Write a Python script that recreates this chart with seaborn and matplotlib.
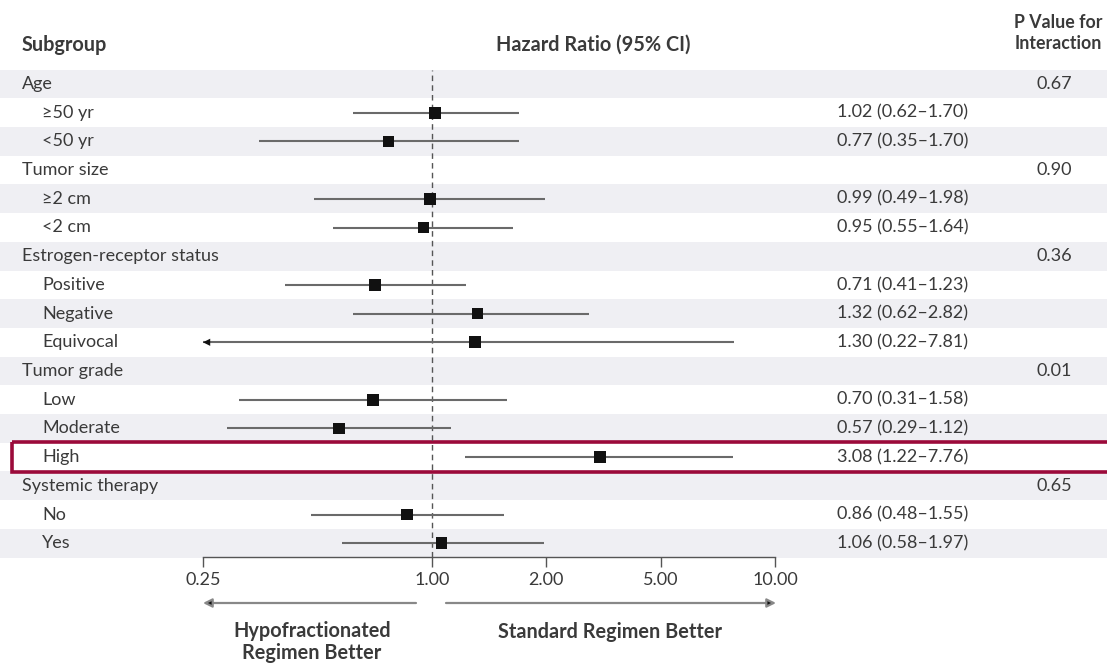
import numpy as np
import pandas as pd
import seaborn as sns
import matplotlib.pyplot as plt
from matplotlib.patches import Rectangle

# chart data
groups = ["Age", "Tumor size", "Estrogen-receptor status", "Tumor grade", "Systemic therapy"]
group_sizes = [2, 2, 3, 3, 2]
p_values = ["0.67", "0.90", "0.36", "0.01", "0.65"]
subgroups = ["≥50 yr", "<50 yr", "≥2 cm", "<2 cm", "Positive", "Negative", "Equivocal",
             "Low", "Moderate", "High", "No", "Yes"]
hr = [1.02, 0.77, 0.99, 0.95, 0.71, 1.32, 1.30, 0.70, 0.57, 3.08, 0.86, 1.06]
ci_low = [0.62, 0.35, 0.49, 0.55, 0.41, 0.62, 0.22, 0.31, 0.29, 1.22, 0.48, 0.58]
ci_high = [1.70, 1.70, 1.98, 1.64, 1.23, 2.82, 7.81, 1.58, 1.12, 7.76, 1.55, 1.97]
x_ticks = [0.25, 1.00, 2.00, 5.00, 10.00]
x_tick_labels = ["0.25", "1.00", "2.00", "5.00", "10.00"]
highlight = "High"

sns.set_theme(style="white")
plt.rcParams["font.family"] = ["Lato", "DejaVu Sans"]

text_col = "#3a3a3a"
shade = "#efeff3"
fs = 13
fs_b = 14.3

# the axis in the original is piecewise: ticks are evenly spaced above 1
tick_pos = np.array([-2.0, 0.0, 1.0, 2.0, 3.0])
log_ticks = np.log10(x_ticks)


def fwd(v):
    return np.interp(np.log10(np.clip(v, 1e-6, None)), log_ticks, tick_pos)


def inv(p):
    return 10 ** np.interp(p, tick_pos, log_ticks)


# build the row table
rows = []
i = 0
k = 0
for g, n in zip(groups, group_sizes):
    rows.append(dict(label=g, row=i, kind="group"))
    i += 1
    for _ in range(n):
        rows.append(dict(label=subgroups[k], row=i, kind="sub", hr=hr[k], lo=ci_low[k], hi=ci_high[k]))
        i += 1
        k += 1
df = pd.DataFrame(rows)
sub = df[df.kind == "sub"]

W, H = 1107, 664
row0, row_h = 84, 28.7
fig = plt.figure(figsize=(W / 100, H / 100), dpi=100)

# background axes in pixel units for layout
ax_bg = fig.add_axes([0, 0, 1, 1])
ax_bg.set_xlim(0, W)
ax_bg.set_ylim(H, 0)
ax_bg.axis("off")

for _, r in df.iterrows():
    y = row0 + r.row * row_h
    if r.row % 2 == 0:
        ax_bg.axhspan(y - row_h / 2, y + row_h / 2, color=shade, lw=0, zorder=0)
    xpos = 22 if r.kind == "group" else 42
    ax_bg.text(xpos, y, r.label, ha="left", va="center", fontsize=fs, color=text_col)
    if r.kind == "sub":
        ax_bg.text(837, y, f"{r.hr:.2f} ({r.lo:.2f}\u2013{r.hi:.2f})", ha="left", va="center",
                   fontsize=fs, color=text_col)
    if r.label == highlight:
        ax_bg.add_patch(Rectangle((12, y - 15), 1110, 30, fill=False, ec="#9b0a3a", lw=2.6,
                                  clip_on=False, zorder=5))

group_rows = df[df.kind == "group"].row.tolist()
for r, p in zip(group_rows, p_values):
    ax_bg.text(1054, row0 + r * row_h, p, ha="center", va="center", fontsize=fs, color=text_col)

# headers
ax_bg.text(22, 45, "Subgroup", ha="left", va="center", fontsize=fs_b, fontweight="bold", color=text_col)
ax_bg.text(593, 45, "Hazard Ratio (95% CI)", ha="center", va="center", fontsize=fs_b,
           fontweight="bold", color=text_col)
ax_bg.text(1058, 33, "P Value for\nInteraction", ha="center", va="center", fontsize=12.8,
           fontweight="bold", color=text_col, linespacing=1.3)

# direction arrows under the axis
ax_bg.annotate("", xy=(203, 603), xytext=(416, 603),
               arrowprops=dict(arrowstyle="-|>", mutation_scale=13, ec="#888888", fc="#111111",
                               lw=1.6, shrinkA=0, shrinkB=0))
ax_bg.annotate("", xy=(776, 603), xytext=(446, 603),
               arrowprops=dict(arrowstyle="-|>", mutation_scale=13, ec="#888888", fc="#111111",
                               lw=1.6, shrinkA=0, shrinkB=0))
ax_bg.text(312, 642, "Hypofractionated\nRegimen Better", ha="center", va="center", fontsize=fs_b,
           fontweight="bold", color=text_col, linespacing=1.1)
ax_bg.text(610, 632, "Standard Regimen Better", ha="center", va="center", fontsize=fs_b,
           fontweight="bold", color=text_col)

# forest plot axes
ax_top, ax_bottom, ax_left, ax_right = 70, 557, 203, 775
ax = fig.add_axes([ax_left / W, 1 - ax_bottom / H, (ax_right - ax_left) / W, (ax_bottom - ax_top) / H])
ax.set_facecolor("none")
ax.set_xscale("function", functions=(fwd, inv))

ax.axvline(1.0, color="#555555", ls=(0, (4, 3)), lw=1.0, zorder=1)
lo_clip = np.clip(sub.lo.values, x_ticks[0], None)
ax.hlines(sub.row, lo_clip, sub.hi, color="#6a6a6a", lw=1.5, zorder=2)
for _, r in sub[sub.lo < x_ticks[0]].iterrows():
    ax.annotate("", xy=(x_ticks[0], r.row), xytext=(0.3, r.row),
                arrowprops=dict(arrowstyle="-|>", mutation_scale=13, color="#111111",
                                lw=0, shrinkA=0, shrinkB=0), annotation_clip=False)
sns.scatterplot(data=sub, x="hr", y="row", marker="s", color="#111111", s=70,
                edgecolor="none", ax=ax, zorder=3, legend=False)

ax.set_xlim(x_ticks[0], x_ticks[-1])
ax.set_ylim((ax_bottom - row0) / row_h, (ax_top - row0) / row_h)
ax.set_xticks(x_ticks)
ax.set_xticklabels(x_tick_labels)
ax.xaxis.set_minor_locator(plt.NullLocator())
ax.set_yticks([])
ax.set_xlabel("")
ax.set_ylabel("")
for s in ["top", "left", "right"]:
    ax.spines[s].set_visible(False)
ax.spines["bottom"].set_color("#555555")
ax.spines["bottom"].set_linewidth(1.0)
ax.tick_params(axis="x", direction="out", length=7, width=1, color="#555555",
               labelsize=fs, labelcolor=text_col, pad=4, bottom=True)

fig.savefig("out.png", dpi=100)
